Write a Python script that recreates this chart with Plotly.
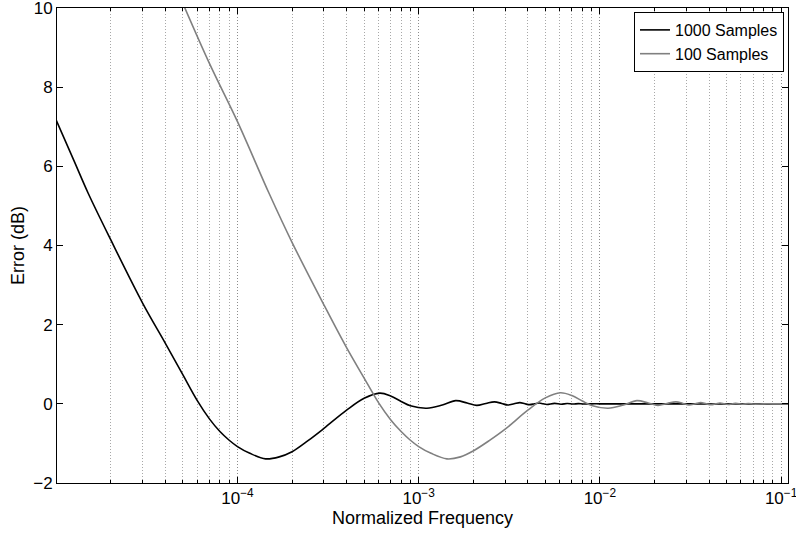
import plotly.graph_objects as go

# 1000 Samples (black)
freq_1000 = [1.0e-5, 1.25e-5, 1.5e-5, 2e-5, 3e-5, 4e-5, 5e-5, 6e-5, 7e-5, 8e-5, 9e-5,
             1e-4, 1.17e-4, 1.43e-4, 1.7e-4, 2e-4, 2.45e-4, 3e-4, 4e-4, 5e-4, 6.1e-4,
             7e-4, 8e-4, 9e-4, 1.11e-3, 1.35e-3, 1.6e-3, 1.85e-3, 2.09e-3, 2.35e-3,
             2.62e-3, 2.87e-3, 3.1e-3, 3.36e-3, 3.62e-3, 3.86e-3, 4.1e-3, 4.36e-3,
             4.62e-3, 4.86e-3, 5.1e-3, 5.62e-3, 6.1e-3, 6.6e-3, 7.1e-3, 7.6e-3,
             8.1e-3, 9e-3, 1e-2, 1.5e-2, 2e-2, 3e-2, 5e-2, 8e-2, 0.11]
err_1000 = [7.16, 6.15, 5.32, 4.14, 2.54, 1.53, 0.73, 0.08, -0.38, -0.70, -0.92,
            -1.08, -1.25, -1.39, -1.34, -1.21, -0.93, -0.62, -0.16, 0.14, 0.27,
            0.20, 0.06, -0.05, -0.11, -0.03, 0.08, 0.02, -0.04, 0.01,
            0.05, 0.01, -0.03, 0.0, 0.03, 0.0, -0.02, 0.0,
            0.02, 0.0, -0.015, 0.012, -0.01, 0.008, -0.006, 0.005,
            -0.004, 0.0, 0.0, 0.0, 0.0, 0.0, 0.0, 0.0, 0.0]

# 100 Samples (gray)
freq_100 = [4.8e-5, 7e-5, 1e-4, 1.5e-4, 2e-4, 3e-4, 4e-4, 5e-4, 6e-4, 7e-4,
            8e-4, 9e-4, 1e-3, 1.17e-3, 1.43e-3, 1.7e-3, 2e-3, 2.45e-3, 3e-3, 4e-3,
            5e-3, 6.05e-3, 7e-3, 8e-3, 9e-3, 1.11e-2, 1.35e-2, 1.6e-2, 1.85e-2,
            2.09e-2, 2.35e-2, 2.63e-2, 2.87e-2, 3.1e-2, 3.36e-2, 3.6e-2, 3.86e-2,
            4.1e-2, 4.36e-2, 4.6e-2, 4.86e-2, 5.1e-2, 5.6e-2, 6.1e-2, 6.6e-2,
            7.1e-2, 8e-2, 9e-2, 0.11]
err_100 = [10.3, 8.60, 7.13, 5.3, 4.08, 2.50, 1.42, 0.65, 0.03, -0.40,
           -0.70, -0.92, -1.08, -1.25, -1.39, -1.34, -1.19, -0.93, -0.64, -0.16,
           0.15, 0.28, 0.21, 0.07, -0.04, -0.11, -0.03, 0.08, 0.02,
           -0.04, 0.01, 0.05, 0.01, -0.03, 0.0, 0.03, 0.0,
           -0.02, 0.0, 0.02, 0.0, -0.015, 0.012, -0.01, 0.008,
           -0.006, 0.0, 0.0, 0.0]

series_names = ["1000 Samples", "100 Samples"]
x_tick_vals = [1e-4, 1e-3, 1e-2, 1e-1]
x_tick_text = ["10<sup>−4</sup>", "10<sup>−3</sup>", "10<sup>−2</sup>", "10<sup>−1</sup>"]
y_tick_vals = [-2, 0, 2, 4, 6, 8, 10]

FONT = "Liberation Sans, Arial, Helvetica, sans-serif"
DOT = "1px,2px"

fig = go.Figure()
fig.add_trace(go.Scatter(x=freq_1000, y=err_1000, mode="lines", name=series_names[0],
                         line=dict(color="#000000", width=1.6, shape="spline", smoothing=1.0)))
fig.add_trace(go.Scatter(x=freq_100, y=err_100, mode="lines", name=series_names[1],
                         line=dict(color="#808080", width=1.6, shape="spline", smoothing=1.0)))

fig.update_layout(
    width=796, height=538,
    margin=dict(l=57, r=8, t=8, b=55),
    paper_bgcolor="white", plot_bgcolor="white",
    font=dict(family=FONT, size=18, color="black"),
    showlegend=True,
    legend=dict(x=0.9945, y=0.9916, xanchor="right", yanchor="top",
                bgcolor="white", bordercolor="black", borderwidth=1,
                font=dict(family=FONT, size=16, color="black"),
                tracegroupgap=0, itemwidth=30),
)

fig.update_xaxes(
    type="log", range=[-4.996, -0.962], automargin=False,
    tickvals=x_tick_vals, ticktext=x_tick_text, ticklabeloverflow="allow",
    ticks="inside", ticklen=6, tickcolor="black",
    showline=True, linecolor="black", linewidth=1, mirror="ticks",
    showgrid=True, gridcolor="#8c8c8c", griddash=DOT, gridwidth=1,
    minor=dict(dtick="D1", ticks="inside", ticklen=3, tickcolor="black",
               showgrid=True, gridcolor="#a8a8a8", griddash=DOT, gridwidth=1),
    title=dict(text="Normalized Frequency", standoff=2, font=dict(size=18)),
    tickfont=dict(size=17), zeroline=False,
)
fig.update_yaxes(
    range=[-2, 10], tickvals=y_tick_vals, automargin=False, ticklabeloverflow="allow",
    ticks="inside", ticklen=6, tickcolor="black",
    showline=True, linecolor="black", linewidth=1, mirror="ticks",
    showgrid=False, zeroline=False,
    title=dict(text="Error (dB)", standoff=3, font=dict(size=18)),
    tickfont=dict(size=17),
)

fig.write_html("out.html", config={"displayModeBar": False},
               post_script="document.body.style.margin='0';")
